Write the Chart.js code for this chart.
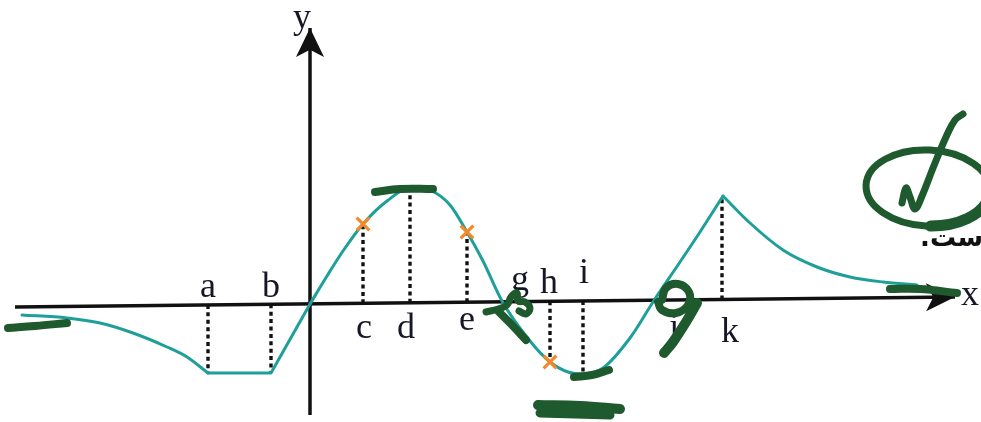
<!DOCTYPE html>
<html>
<head>
<meta charset="utf-8">
<script src="https://cdn.jsdelivr.net/npm/chart.js@4"></script>
<style>
  html, body { margin: 0; padding: 0; background: #fff; }
  #wrap { width: 981px; height: 422px; }
</style>
</head>
<body>
<div id="wrap"><canvas id="graph" width="981" height="422"></canvas></div>
<script>
// curve pieces, [x, y] in graph units
const leftTail  = [[-5.76,-0.22],[-4.86,-0.28],[-4.2,-0.38],[-3.54,-0.58],[-2.86,-0.86],[-2.46,-1.06],[-2.04,-1.38]];
const flatPart  = [[-2.04,-1.38],[-0.78,-1.38],[0,0]];
const wave      = [[0,0],[0.34,0.56],[0.66,1.06],[1.06,1.6],[1.54,2.06],[2.04,2.34],[2.44,2.26],[2.8,1.98],
                   [3.14,1.44],[3.46,0.86],[3.84,0.06],[4.4,-0.74],[4.8,-1.16],[5.16,-1.36],[5.46,-1.40],
                   [5.86,-1.28],[6.4,-0.68],[6.86,0.04],[7.4,0.84],[7.8,1.44],[8.26,2.16]];
const rightTail = [[8.26,2.16],[8.8,1.62],[9.46,1.08],[10.14,0.74],[10.8,0.54],[11.46,0.44],[12.14,0.38]];

// x-axis (slightly tilted) and y-axis ends
const xAxisEnds = [[-5.9,-0.06],[12.9,0.14]];
const yAxisEnds = [[0,-2.22],[0,5.52]];

// dotted drop lines: x position and curve value
const dropX = [-2.04,-0.78,1.06,2.0,3.14,4.8,5.46,8.24];
const dropY = [-1.38,-1.38,1.6,2.33,1.44,-1.16,-1.40,2.14];

// crosses on the curve
const crossX = [1.06,3.14,4.8];
const crossY = [1.6,1.44,-1.16];

// letter labels (baseline anchor)
const labelText = ['a','b','c','d','e','g','h','i','j','k','x','y'];
const labelX    = [-2.04,-0.78,1.08,1.92,3.14,4.2,4.78,5.48,7.28,8.4,13.2,-0.16];
const labelY    = [0.14,0.14,-0.68,-0.68,-0.52,0.28,0.22,0.42,-0.68,-0.76,-0.02,5.52];

// pen marks
const penStrokes = [
  [[-6.04,-0.48],[-5.5,-0.44],[-4.86,-0.38]],
  [[1.3,2.24],[1.8,2.3],[2.46,2.3]],
  [[3.52,-0.16],[3.76,-0.1],[3.94,-0.02],[4.02,0.14],[4.14,0.22],[4.16,0.06],[4.3,0.04],[4.4,-0.08],[4.32,-0.2],[4.18,-0.14]],
  [[3.76,-0.14],[4.04,-0.42],[4.32,-0.72]],
  [[5.28,-1.46],[5.64,-1.42],[5.98,-1.32]],
  [[4.56,-2.02],[5.4,-2.04],[6.2,-2.1]],
  [[4.6,-2.18],[5.3,-2.2],[6.0,-2.22]],
  [[7.04,0.08],[7.12,0.32],[7.36,0.4],[7.58,0.24],[7.56,-0.02],[7.32,-0.18],[7.04,-0.12],[6.96,0.04]],
  [[7.74,0.02],[7.52,-0.36],[7.26,-0.76],[7.08,-0.98]],
  [[11.6,0.3],[12.2,0.3],[12.94,0.22]],
  [[11.84,2.02],[11.92,2.32],[12.0,2.14],[12.1,1.9],[12.24,2.16],[12.46,2.72],[12.72,3.34],[12.9,3.68],[13.06,3.8]]
];
const penWidths = [8,8,7,8,8,10,9,8,10,8,7];
const checkRing = { cx: 12.36, cy: 2.32, rx: 1.24, ry: 0.76 };

const noteText = 'است.';
const notePos  = [12.2, 1.16];

// visible window in graph units (whole canvas)
const VIEW = { xMin: -6.2, xMax: 13.42, yMin: -2.36, yMax: 6.08 };

const TEAL = '#1f9f9a';
const PEN = '#1e5a2e';
const INK = '#111';

const pts = arr => arr.map(([x, y]) => ({ x, y }));

function curveSet(arr, mode) {
  return {
    data: pts(arr), borderColor: TEAL, borderWidth: 3, pointRadius: 0, fill: false,
    tension: mode ? 0.4 : 0, cubicInterpolationMode: mode || 'default',
    borderCapStyle: 'round', borderJoinStyle: 'round', order: 5, clip: false
  };
}

const datasets = [];
datasets.push(curveSet(leftTail, 'monotone'));
datasets.push(curveSet(flatPart, null));
datasets.push(curveSet(wave, 'monotone'));
datasets.push(curveSet(rightTail, 'monotone'));

// dotted lines from the axis up/down to the curve
const axisYAt = x => {
  const [[x0, y0], [x1, y1]] = xAxisEnds;
  return y0 + (x - x0) * (y1 - y0) / (x1 - x0);
};
dropX.forEach((x, i) => {
  datasets.push({
    data: [{ x, y: axisYAt(x) }, { x, y: dropY[i] }],
    borderColor: INK, borderWidth: 3.4, borderDash: [4, 3.4], pointRadius: 0,
    fill: false, tension: 0, order: 8, clip: false
  });
});

datasets.push({
  data: crossX.map((x, i) => ({ x, y: crossY[i] })),
  showLine: false, pointStyle: 'crossRot', pointRadius: 9, pointHoverRadius: 9,
  borderColor: '#f2892a', borderWidth: 3.2, order: 3, clip: false
});

penStrokes.forEach((s, i) => {
  datasets.push({
    data: pts(s), borderColor: PEN, borderWidth: penWidths[i], pointRadius: 0,
    fill: false, tension: 0.4, borderCapStyle: 'round', borderJoinStyle: 'round', order: 1, clip: false
  });
});

function arrowHead(ctx, tip, from, len, half) {
  const dx = tip.x - from.x, dy = tip.y - from.y;
  const d = Math.hypot(dx, dy), ux = dx / d, uy = dy / d;
  const bx = tip.x - ux * len, by = tip.y - uy * len;
  const nx = tip.x - ux * len * 0.75, ny = tip.y - uy * len * 0.75;
  ctx.beginPath();
  ctx.moveTo(tip.x, tip.y);
  ctx.lineTo(bx - uy * half, by + ux * half);
  ctx.lineTo(nx, ny);
  ctx.lineTo(bx + uy * half, by - ux * half);
  ctx.closePath();
  ctx.fill();
}

const axesAndLabels = {
  id: 'axesAndLabels',
  beforeDatasetsDraw(chart) {
    const { ctx, scales: { x, y } } = chart;
    const P = ([a, b]) => ({ x: x.getPixelForValue(a), y: y.getPixelForValue(b) });
    ctx.save();
    ctx.strokeStyle = INK; ctx.fillStyle = INK; ctx.lineWidth = 3.5;
    [xAxisEnds, yAxisEnds].forEach(ends => {
      const p0 = P(ends[0]), p1 = P(ends[1]);
      ctx.beginPath(); ctx.moveTo(p0.x, p0.y); ctx.lineTo(p1.x, p1.y); ctx.stroke();
      arrowHead(ctx, p1, p0, 29, 14);
    });
    ctx.font = '36px "Liberation Serif", "DejaVu Serif", serif';
    ctx.textAlign = 'center';
    ctx.textBaseline = 'alphabetic';
    ctx.fillStyle = '#161626';
    labelText.forEach((t, i) => {
      ctx.fillText(t, x.getPixelForValue(labelX[i]), y.getPixelForValue(labelY[i]));
    });
    ctx.restore();
  },
  afterDatasetsDraw(chart) {
    const { ctx, scales: { x, y } } = chart;
    const cx = x.getPixelForValue(checkRing.cx), cy = y.getPixelForValue(checkRing.cy);
    const rx = x.getPixelForValue(checkRing.cx + checkRing.rx) - cx;
    const ry = cy - y.getPixelForValue(checkRing.cy + checkRing.ry);
    ctx.save();
    ctx.fillStyle = INK;
    ctx.font = 'bold 26px "DejaVu Sans", sans-serif';
    ctx.direction = 'rtl';
    ctx.textAlign = 'left';
    ctx.fillText(noteText, x.getPixelForValue(notePos[0]), y.getPixelForValue(notePos[1]));
    ctx.strokeStyle = PEN; ctx.lineCap = 'round';
    ctx.lineWidth = 7;
    ctx.beginPath(); ctx.ellipse(cx, cy, rx, ry, 0.05, 0, Math.PI * 2); ctx.stroke();
    ctx.lineWidth = 11;
    ctx.beginPath(); ctx.ellipse(cx, cy, rx, ry, 0.05, 0.2, 1.5); ctx.stroke();
    ctx.restore();
  }
};

const chart = new Chart(document.getElementById('graph'), {
  type: 'line',
  data: { datasets },
  options: {
    responsive: false,
    animation: false,
    events: [],
    layout: { padding: 0 },
    plugins: { legend: { display: false }, tooltip: { enabled: false } },
    scales: {
      x: { type: 'linear', min: VIEW.xMin, max: VIEW.xMax, display: false },
      y: { type: 'linear', min: VIEW.yMin, max: VIEW.yMax, display: false }
    }
  },
  plugins: [axesAndLabels]
});

// Chart.js keeps a little padding around the plot for point overflow;
// stretch the scale limits so the view still spans the whole canvas.
(function fitView() {
  const a = chart.chartArea, W = chart.width, H = chart.height;
  const ux = (VIEW.xMax - VIEW.xMin) / W, uy = (VIEW.yMax - VIEW.yMin) / H;
  chart.options.scales.x.min = VIEW.xMin + a.left * ux;
  chart.options.scales.x.max = VIEW.xMin + a.right * ux;
  chart.options.scales.y.max = VIEW.yMax - a.top * uy;
  chart.options.scales.y.min = VIEW.yMax - a.bottom * uy;
  chart.update();
})();
</script>
</body>
</html>
